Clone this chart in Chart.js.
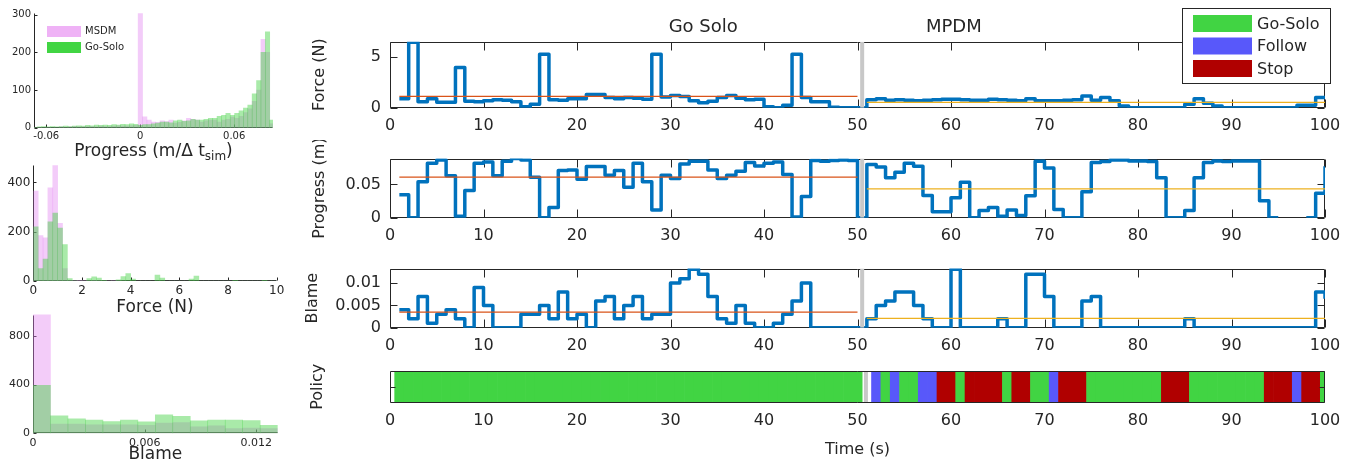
<!DOCTYPE html>
<html>
<head>
<meta charset="utf-8">
<title>Go Solo vs MPDM</title>
<script src="https://cdn.jsdelivr.net/npm/chart.js@4.4.1/dist/chart.umd.min.js"></script>
<style>
  html, body { margin: 0; padding: 0; background: #fff; }
  body { position: relative; width: 1353px; height: 459px; overflow: hidden; }
  canvas { position: absolute; }
</style>
</head>
<body>
<canvas id="histProgress" width="290" height="160" style="left:0;top:0"></canvas>
<canvas id="histForce" width="290" height="160" style="left:0;top:155px"></canvas>
<canvas id="histBlame" width="290" height="160" style="left:0;top:305px"></canvas>
<canvas id="forceChart" width="1050" height="140" style="left:300px;top:0"></canvas>
<canvas id="progressChart" width="1050" height="110" style="left:300px;top:140px"></canvas>
<canvas id="blameChart" width="1050" height="105" style="left:300px;top:250px"></canvas>
<canvas id="policyChart" width="1050" height="104" style="left:300px;top:355px"></canvas>
<script>
// ---- time series, one value per second (t = 1..100) ----
const forceN = [
  0.9, 6.5, 0.6, 0.9, 0.55, 0.55, 4.0, 0.65, 0.6, 0.7,
  0.8, 0.75, 0.6, 0.1, 0.35, 5.3, 0.8, 0.75, 0.9, 0.9,
  1.3, 1.3, 1.0, 0.9, 1.0, 0.95, 0.85, 5.3, 1.05, 1.2,
  1.1, 0.7, 0.5, 0.65, 1.0, 1.2, 0.95, 0.8, 0.85, 0.1,
  0.0, 0.25, 5.3, 1.0, 0.6, 0.6, 0.05, 0, 0, 0,
  0.8, 0.9, 0.75, 0.8, 0.75, 0.7, 0.75, 0.8, 0.85, 0.85,
  0.8, 0.75, 0.75, 0.85, 0.8, 0.75, 0.7, 0.9, 0.7, 0.7,
  0.7, 0.75, 0.8, 1.15, 0.75, 1.0, 0.7, 0.17, 0, 0,
  0, 0, 0, 0, 0.35, 0.9, 0.45, 0.17, 0, 0,
  0, 0, 0, 0, 0, 0, 0.25, 0.25, 1.0, 1.0
];
const progressM = [
  0.0345, 0, 0.054, 0.082, 0.087, 0.063, 0.002, 0.041, 0.082, 0.084,
  0.063, 0.085, 0.089, 0.087, 0.061, 0, 0.0155, 0.071, 0.072, 0.058,
  0.077, 0.077, 0.064, 0.071, 0.046, 0.082, 0.054, 0.0115, 0.064, 0.059,
  0.081, 0.085, 0.085, 0.072, 0.059, 0.064, 0.07, 0.083, 0.078, 0.082,
  0.084, 0.065, 0.001, 0.032, 0.086, 0.085, 0.086, 0.087, 0.086, 0,
  0.080, 0.0765, 0.060, 0.0685, 0.082, 0.0775, 0.0335, 0.009, 0.009, 0.030,
  0.0535, 0, 0.011, 0.0155, 0.002, 0.0115, 0.0035, 0.033, 0.085, 0.075,
  0.0125, 0, 0, 0.039, 0.083, 0.0845, 0.087, 0.087, 0.0855, 0.0855,
  0.0845, 0.060, 0, 0, 0.011, 0.060, 0.083, 0.0855, 0.0845, 0.0855,
  0.0855, 0.0855, 0.0255, 0, 0, null, null, 0, 0.0367, 0.0775
];
const blame = [
  0.004, 0.002, 0.007, 0.001, 0.003, 0.004, 0.002, 0, 0.009, 0.005,
  0, 0, 0, 0.003, 0.003, 0.005, 0.002, 0.008, 0.002, 0.003,
  0, 0.006, 0.007, 0.002, 0.005, 0.007, 0.002, 0.003, 0.003, 0.010,
  0.011, 0.0131, 0.012, 0.007, 0.002, 0.001, 0.005, 0.001, 0, 0,
  0.001, 0.003, 0.006, 0.010, 0, 0, 0, 0, 0, 0,
  0.002, 0.005, 0.006, 0.008, 0.008, 0.005, 0.002, 0, 0, 0.0131,
  0, 0, 0, 0, 0.002, 0, 0, 0.012, 0.012, 0.007,
  0, 0, 0, 0.006, 0.007, 0, 0, 0, 0, 0,
  0, 0, 0, 0, 0.002, 0, 0, 0, 0, 0,
  0, 0, 0, 0, 0, 0, 0, 0, 0.008, 0.0065
];
// 0 = Go-Solo, 1 = Follow, 2 = Stop, null = none
const policy = [
  0, 0, 0, 0, 0, 0, 0, 0, 0, 0,
  0, 0, 0, 0, 0, 0, 0, 0, 0, 0,
  0, 0, 0, 0, 0, 0, 0, 0, 0, 0,
  0, 0, 0, 0, 0, 0, 0, 0, 0, 0,
  0, 0, 0, 0, 0, 0, 0, 0, 0, 0,
  null, 1, 0, 1, 0, 0, 1, 1, 2, 2,
  0, 2, 2, 2, 2, 0, 2, 2, 0, 0,
  1, 2, 2, 2, 0, 0, 0, 0, 0, 0,
  0, 0, 2, 2, 2, 0, 0, 0, 0, 0,
  0, 0, 0, 2, 2, 2, 1, 2, 2, 0
];
const policyNames = ['Go-Solo', 'Follow', 'Stop'];

// mean lines [Go Solo, MPDM]
const forceMean = [1.13, 0.53];
const progressMean = [0.061, 0.0434];
const blameMean = [0.0035, 0.0021];
const goSoloSpan = [1, 50];
const mpdmSpan = [51, 100];
const splitT = 50.5;
const policySplitT = 50.9;
const phaseNames = ['Go Solo', 'MPDM'];
const phaseNameX = [33.5, 60.3];

const timeTicks = [0, 10, 20, 30, 40, 50, 60, 70, 80, 90, 100];
const forceTicks = [0, 5];
const progressTicks = [0, 0.05];
const blameTicks = [0, 0.005, 0.01];

// ---- histograms: MSDM vs Go-Solo ----
const histLabels = ['MSDM', 'Go-Solo'];
const progBinStart = -0.0685, progBinWidth = 0.0028;
const msdmProgress = [
  0, 1, 0, 1, 0, 0,
  2, 1, 2, 3, 2, 2, 3, 3, 2, 4, 3, 3, 4, 5, 4, 4, 5, 6,
  309,
  29, 20, 15, 14, 18, 16, 20, 12, 14, 18,
  25, 22, 20, 15, 18, 20, 20, 15, 20, 22,
  28, 25, 30, 40, 50, 70, 100, 235, 200, 10
];
const goSoloProgress = [
  1, 2, 3, 2, 3, 2,
  3, 4, 3, 4, 5, 4, 6, 5, 7, 6, 7, 6, 8, 7, 9, 8, 10, 9,
  6,
  8, 8, 10, 12, 15, 15, 13, 18, 20, 17,
  18, 22, 20, 20, 22, 25, 25, 30, 33, 38,
  33, 38, 45, 52, 60, 90, 125, 200, 255, 20
];
const progHistTicks = [-0.06, 0, 0.06];
const progHistYTicks = [0, 100, 200, 300];

const forceBinStart = 0, forceBinWidth = 0.2;
const msdmForce = [
  365, 184, 175, 378, 470, 234, 50, 3, 2, 3,
  2, 2, 3, 2, 1, 1, 2, 2, 1, 0,
  0, 0, 0, 0, 0, 0, 0, 0, 0, 0,
  0, 0, 0, 0, 0, 0, 0, 0, 0, 0,
  0, 0, 0, 0, 0, 0, 0, 0, 0, 0
];
const goSoloForce = [
  220, 50, 89, 240, 276, 215, 148, 10, 1, 0,
  0, 10, 17, 12, 3, 0, 0, 5, 18, 30,
  8, 0, 0, 0, 0, 24, 12, 0, 0, 0,
  0, 0, 8, 20, 0, 0, 0, 0, 0, 0,
  0, 3, 0, 0, 0, 0, 0, 3, 0, 0
];
const forceHistTicks = [0, 2, 4, 6, 8, 10];
const forceHistYTicks = [0, 200, 400];

const blameBinStart = 0, blameBinWidth = 0.000939;
const msdmBlame = [1000, 76, 76, 70, 70, 70, 65, 84, 89, 54, 62, 38, 43, 38];
const goSoloBlame = [395, 143, 119, 108, 97, 108, 95, 151, 140, 103, 108, 108, 105, 65];
const blameHistTicks = [0, 0.006, 0.012];
const blameHistYTicks = [0, 400, 800];

// ---- styles ----
const axisColor = '#262626';
const lineBlue = '#0072BD';
const goSoloMeanColor = '#D95319';
const mpdmMeanColor = '#EDB120';
const splitColor = '#c8c8c8';
const policyColors = ['#41d443', '#5858fa', '#b00000'];
const msdmFill = 'rgba(226,128,240,0.4)';
const goSoloFill = 'rgba(64,208,64,0.45)';
const histSwatch = ['#efb2f6', '#41d543'];
const FONT = '"DejaVu Sans", sans-serif';

Chart.defaults.font.family = FONT;
Chart.defaults.color = axisColor;
Chart.defaults.animation = false;

// MATLAB style frame with inward ticks
function drawFrame(chart, o) {
  const { ctx, chartArea: a, scales } = chart;
  const L = Math.round(a.left) + 0.5, R = Math.round(a.right) - 0.5;
  const T = Math.round(a.top) + 0.5, B = Math.round(a.bottom) - 0.5;
  const xl = o.xLen || 0, yl = o.yLen || 0;
  ctx.save();
  ctx.strokeStyle = axisColor;
  ctx.lineWidth = 1;
  ctx.beginPath();
  if (o.box) {
    ctx.rect(L, T, R - L, B - T);
  } else {
    ctx.moveTo(L, T); ctx.lineTo(L, B); ctx.lineTo(R, B);
  }
  if (xl) scales.x.ticks.forEach(t => {
    const p = Math.round(scales.x.getPixelForValue(t.value)) + 0.5;
    ctx.moveTo(p, B); ctx.lineTo(p, B - xl);
    if (o.box) { ctx.moveTo(p, T); ctx.lineTo(p, T + xl); }
  });
  if (yl) scales.y.ticks.forEach(t => {
    const p = Math.round(scales.y.getPixelForValue(t.value)) + 0.5;
    ctx.moveTo(L, p); ctx.lineTo(L + yl, p);
    if (o.box) { ctx.moveTo(R, p); ctx.lineTo(R - yl, p); }
  });
  ctx.stroke();
  ctx.restore();
}
const boxTicks = {
  id: 'boxTicks',
  beforeDatasetsDraw(chart, args, o) { if (!o.front) drawFrame(chart, o); },
  afterDatasetsDraw(chart, args, o) { if (o.front) drawFrame(chart, o); }
};

const phaseTitles = {
  id: 'phaseTitles',
  afterDraw(chart) {
    const { ctx, scales: { x } } = chart;
    ctx.save();
    ctx.font = '18px ' + FONT;
    ctx.fillStyle = axisColor;
    ctx.textAlign = 'center';
    ctx.textBaseline = 'middle';
    phaseNames.forEach((t, i) => ctx.fillText(t, x.getPixelForValue(phaseNameX[i]), 27));
    ctx.restore();
  }
};

const policyLegend = {
  id: 'policyLegend',
  afterDraw(chart) {
    const ctx = chart.ctx;
    ctx.save();
    ctx.fillStyle = '#fff';
    ctx.fillRect(882.5, 8.5, 148, 75);
    ctx.strokeStyle = axisColor;
    ctx.lineWidth = 1;
    ctx.strokeRect(882.5, 8.5, 148, 75);
    ctx.font = '16px ' + FONT;
    ctx.textAlign = 'left';
    ctx.textBaseline = 'middle';
    policyNames.forEach((name, i) => {
      const cy = 23.5 + i * 22.5;
      ctx.fillStyle = policyColors[i];
      ctx.fillRect(893, cy - 8.5, 59, 17);
      ctx.fillStyle = axisColor;
      ctx.fillText(name, 957, cy + 1);
    });
    ctx.restore();
  }
};

const histLegend = {
  id: 'histLegend',
  afterDraw(chart) {
    const ctx = chart.ctx;
    ctx.save();
    ctx.font = '10px ' + FONT;
    ctx.textAlign = 'left';
    ctx.textBaseline = 'middle';
    chart.data.datasets.forEach((ds, i) => {
      const cy = 31.5 + i * 16;
      ctx.fillStyle = histSwatch[i];
      ctx.fillRect(47, cy - 5.5, 34, 11);
      ctx.fillStyle = axisColor;
      ctx.fillText(ds.label, 85, cy);
    });
    ctx.restore();
  }
};

// x title with subscript for the progress histogram
const progressTitle = {
  id: 'progressTitle',
  afterDraw(chart) {
    const { ctx, chartArea: a } = chart;
    const main = 'Progress (m/\u0394 t', sub = 'sim', tail = ')';
    ctx.save();
    ctx.fillStyle = axisColor;
    ctx.textBaseline = 'alphabetic';
    ctx.font = '17px ' + FONT;
    const w1 = ctx.measureText(main).width, w3 = ctx.measureText(tail).width;
    ctx.font = '12px ' + FONT;
    const w2 = ctx.measureText(sub).width;
    let x = (a.left + a.right) / 2 - (w1 + w2 + w3) / 2;
    const y = 156;
    ctx.font = '17px ' + FONT;
    ctx.fillText(main, x, y);
    x += w1;
    ctx.font = '12px ' + FONT;
    ctx.fillText(sub, x, y + 4);
    x += w2;
    ctx.font = '17px ' + FONT;
    ctx.fillText(tail, x, y);
    ctx.restore();
  }
};

function fixedTicks(list) {
  return s => { s.ticks = list.map(v => ({ value: v })); };
}

function timeAxis(height, title) {
  return {
    type: 'linear', min: 0, max: 100,
    afterBuildTicks: fixedTicks(timeTicks),
    ticks: { font: { size: 16 }, padding: 9, maxRotation: 0, autoSkip: false, callback: v => String(v) },
    grid: { display: false, drawTicks: false },
    border: { display: false },
    title: title
      ? { display: true, text: title, font: { size: 16 }, padding: { top: 0, bottom: 0 } }
      : { display: false },
    afterFit: s => { s.height = height; }
  };
}

function timeSeries(values) {
  return values.map((v, i) => ({ x: i + 1, y: v }));
}

function seriesChart(id, o) {
  return new Chart(document.getElementById(id), {
    type: 'line',
    data: {
      datasets: [
        { data: timeSeries(o.values), borderColor: lineBlue, borderWidth: 3.5, stepped: 'before',
          borderJoinStyle: 'round', pointRadius: 0, order: 3 },
        { data: [{ x: goSoloSpan[0], y: o.means[0] }, { x: goSoloSpan[1], y: o.means[0] }],
          borderColor: goSoloMeanColor, borderWidth: 1.3, pointRadius: 0, order: 2 },
        { data: [{ x: mpdmSpan[0], y: o.means[1] }, { x: mpdmSpan[1], y: o.means[1] }],
          borderColor: mpdmMeanColor, borderWidth: 1.3, pointRadius: 0, order: 2 },
        { data: [{ x: splitT, y: 0 }, { x: splitT, y: o.yMax }],
          borderColor: splitColor, borderWidth: 4, pointRadius: 0, order: 1 }
      ]
    },
    options: {
      responsive: false, animation: false, events: [],
      layout: { padding: { top: o.top, right: 25, left: 0, bottom: 0 } },
      plugins: {
        legend: { display: false }, tooltip: { enabled: false },
        boxTicks: { box: true, xLen: 8, yLen: 7 }
      },
      scales: {
        x: timeAxis(o.xHeight),
        y: {
          type: 'linear', min: 0, max: o.yMax,
          afterBuildTicks: fixedTicks(o.yTicks),
          ticks: { font: { size: 16 }, padding: 9, callback: v => String(v) },
          grid: { display: false, drawTicks: false },
          border: { display: false },
          title: { display: true, text: o.yTitle, font: { size: 16 }, padding: { top: o.titlePad, bottom: 0 } },
          afterFit: s => { s.width = 90; }
        }
      }
    },
    plugins: [boxTicks].concat(o.extra || [])
  });
}

seriesChart('forceChart', {
  values: forceN, means: forceMean, yMax: 6.55, yTicks: forceTicks, yTitle: 'Force (N)',
  top: 41.7, xHeight: 32.3, titlePad: 10.4, extra: [phaseTitles, policyLegend]
});
seriesChart('progressChart', {
  values: progressM, means: progressMean, yMax: 0.089, yTicks: progressTicks, yTitle: 'Progress (m)',
  top: 10.7, xHeight: 32.3, titlePad: 10.4
});
seriesChart('blameChart', {
  values: blame, means: blameMean, yMax: 0.01325, yTicks: blameTicks, yTitle: 'Blame',
  top: 11, xHeight: 27.3, titlePad: 3.5
});

// policy strip
const policyBars = [];
policy.forEach((p, i) => { if (p !== null) policyBars.push({ x: i + 1, y: 1, c: policyColors[p] }); });

new Chart(document.getElementById('policyChart'), {
  type: 'bar',
  data: {
    datasets: [
      { type: 'line', data: [{ x: policySplitT, y: 0 }, { x: policySplitT, y: 1 }],
        borderColor: splitColor, borderWidth: 4, pointRadius: 0, order: 1 },
      { data: policyBars, backgroundColor: policyBars.map(b => b.c), borderWidth: 0,
        barPercentage: 1, categoryPercentage: 1, clip: 0, order: 2 }
    ]
  },
  options: {
    responsive: false, animation: false, events: [],
    layout: { padding: { top: 16, right: 25, left: 0, bottom: 0 } },
    plugins: {
      legend: { display: false }, tooltip: { enabled: false },
      boxTicks: { box: true, xLen: 0, yLen: 5, front: true }
    },
    scales: {
      x: Object.assign(timeAxis(56.3, 'Time (s)'), { offset: false }),
      y: {
        type: 'linear', min: 0, max: 1,
        afterBuildTicks: fixedTicks([0.5]),
        ticks: { display: false },
        grid: { display: false, drawTicks: false },
        border: { display: false },
        title: { display: true, text: 'Policy', font: { size: 16 }, padding: { top: 8.5, bottom: 0 } },
        afterFit: s => { s.width = 90; }
      }
    }
  },
  plugins: [boxTicks]
});

// histograms
function histChart(id, o) {
  const bins = v => v.map((y, i) => ({ x: o.binStart + o.binWidth * (i + 0.5), y }));
  const barStyle = { borderWidth: 0, grouped: false, barPercentage: 1, categoryPercentage: 1, clip: 0 };
  return new Chart(document.getElementById(id), {
    type: 'bar',
    data: {
      datasets: [
        Object.assign({ label: histLabels[0], data: bins(o.msdm), backgroundColor: msdmFill, order: 2 }, barStyle),
        Object.assign({ label: histLabels[1], data: bins(o.goSolo), backgroundColor: goSoloFill, order: 1 }, barStyle)
      ]
    },
    options: {
      responsive: false, animation: false, events: [],
      layout: { padding: { top: o.top, right: o.right, left: 0, bottom: 0 } },
      plugins: {
        legend: { display: false }, tooltip: { enabled: false },
        boxTicks: { box: false, xLen: 3, yLen: 3 }
      },
      scales: {
        x: {
          type: 'linear', offset: false, min: o.xMin, max: o.xMax,
          afterBuildTicks: fixedTicks(o.xTicks),
          ticks: { font: { size: o.fs }, padding: 3, maxRotation: 0, autoSkip: false, callback: v => String(v) },
          grid: { display: false, drawTicks: false, offset: false },
          border: { display: false },
          title: o.xTitle
            ? { display: true, text: o.xTitle, font: { size: 17 }, padding: { top: 0, bottom: o.titlePad } }
            : { display: false },
          afterFit: s => { s.height = o.xHeight; }
        },
        y: {
          type: 'linear', min: 0, max: o.yMax,
          afterBuildTicks: fixedTicks(o.yTicks),
          ticks: { font: { size: o.fs }, padding: 3, callback: v => String(v) },
          grid: { display: false, drawTicks: false },
          border: { display: false },
          afterFit: s => { s.width = o.left; }
        }
      }
    },
    plugins: [boxTicks].concat(o.extra || [])
  });
}

histChart('histProgress', {
  binStart: progBinStart, binWidth: progBinWidth, msdm: msdmProgress, goSolo: goSoloProgress,
  xMin: -0.0678, xMax: 0.0848, xTicks: progHistTicks, yMax: 304, yTicks: progHistYTicks,
  fs: 10, top: 13.3, right: 17, left: 34, xHeight: 32.3, extra: [histLegend, progressTitle]
});
histChart('histForce', {
  binStart: forceBinStart, binWidth: forceBinWidth, msdm: msdmForce, goSolo: goSoloForce,
  xMin: 0, xMax: 10, xTicks: forceHistTicks, yMax: 470, yTicks: forceHistYTicks,
  fs: 12, top: 6.7, right: 13.3, left: 33.3, xHeight: 34, xTitle: 'Force (N)', titlePad: -2.5
});
histChart('histBlame', {
  binStart: blameBinStart, binWidth: blameBinWidth, msdm: msdmBlame, goSolo: goSoloBlame,
  xMin: 0, xMax: 0.01315, xTicks: blameHistTicks, yMax: 975, yTicks: blameHistYTicks,
  fs: 11, top: 8.3, right: 12.3, left: 33, xHeight: 31.7, xTitle: 'Blame', titlePad: 0
});
</script>
</body>
</html>
